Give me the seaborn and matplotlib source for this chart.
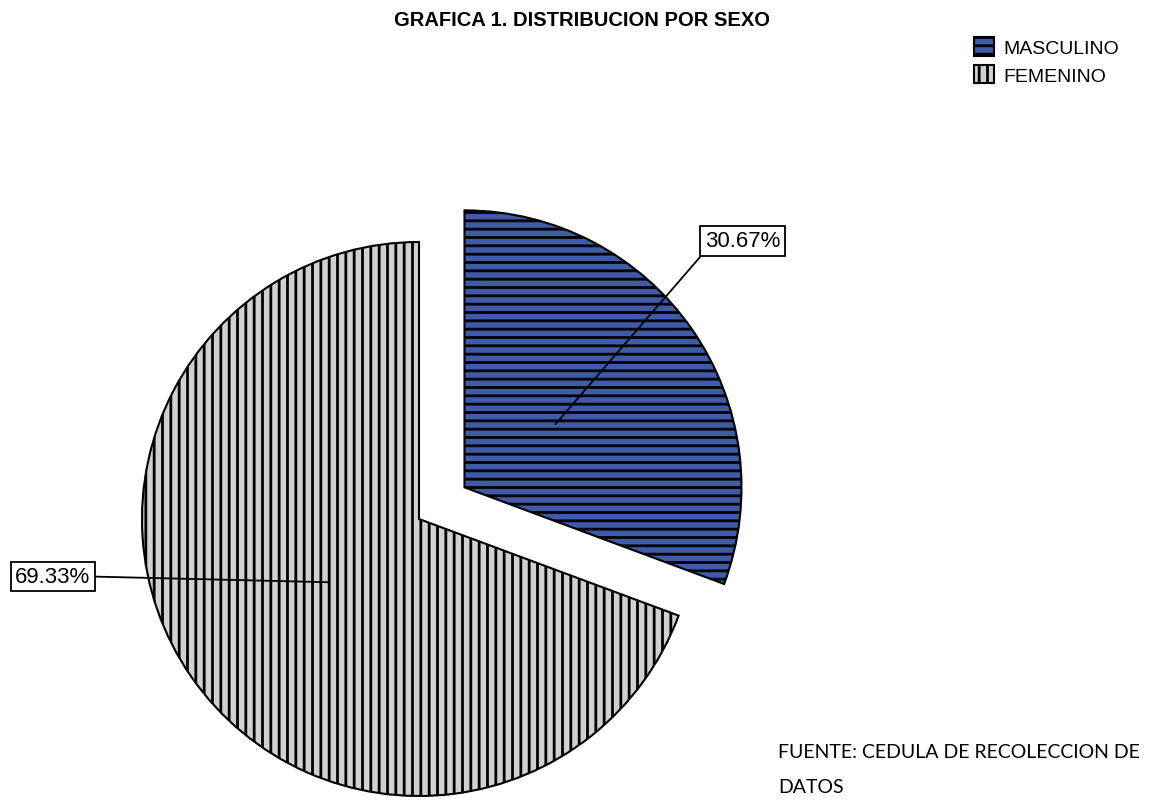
import numpy as np
import matplotlib
matplotlib.use("Agg")
import matplotlib.pyplot as plt
import seaborn as sns

categories = ["MASCULINO", "FEMENINO"]
values = [30.67, 69.33]
label_texts = ["30.67%", "69.33%"]
colors = ["#3F5AA9", "#D0D0D0"]
hatches = ["--", "||"]
title = "GRAFICA 1. DISTRIBUCION POR SEXO"
source_lines = ["FUENTE: CEDULA DE RECOLECCION DE", "DATOS"]

sns.set_theme(style="white")
plt.rcParams["font.family"] = ["Liberation Sans", "DejaVu Sans"]
plt.rcParams["text.color"] = "black"
plt.rcParams["hatch.linewidth"] = 2.0
plt.rcParams["hatch.color"] = "black"

W, H = 1160, 803
fig = plt.figure(figsize=(W / 100, H / 100), dpi=100)
fig.patch.set_facecolor("white")
ax = fig.add_axes([0, 0, 1, 1])

R = 277.0
cx, cy = 419.0, H - 520.0

wedges, _ = ax.pie(values, colors=colors, startangle=90, counterclock=False,
                   explode=[0.2, 0.0], radius=1.0,
                   wedgeprops=dict(edgecolor="black", linewidth=1.5))
for w, h in zip(wedges, hatches):
    w.set_hatch(h)

ax.set_xlim(-cx / R, (W - cx) / R)
ax.set_ylim(-cy / R, (H - cy) / R)
ax.set_aspect("equal")
ax.axis("off")

# labels with leader lines
label_pos = [(742.5, H - 242.0), (53.0, H - 577.5)]
relpos = [(0.0, 0.0), (1.0, 0.5)]
for w, txt, pos, rp in zip(wedges, label_texts, label_pos, relpos):
    tm = np.deg2rad(0.5 * (w.theta1 + w.theta2))
    px = w.center[0] + 0.4 * w.r * np.cos(tm)
    py = w.center[1] + 0.4 * w.r * np.sin(tm)
    ax.annotate(txt, xy=(px, py), xycoords="data",
                xytext=pos, textcoords="figure pixels",
                ha="center", va="center", fontsize=16, color="black",
                family=["Liberation Sans", "DejaVu Sans"],
                bbox=dict(boxstyle="square,pad=0.2", fc="white", ec="black", lw=1.3),
                arrowprops=dict(arrowstyle="-", color="black", lw=1.3,
                                shrinkA=0, shrinkB=0, relpos=rp))

fig.text(582 / W, 1 - 21 / H, title, ha="center", va="center",
         fontsize=14.5, fontweight="bold", color="black",
         family=["Liberation Sans", "DejaVu Sans"])

leg = ax.legend(wedges, categories, loc="upper left",
                bbox_to_anchor=(974 / W, 1 - 38 / H), bbox_transform=fig.transFigure,
                frameon=False, handlelength=1.05, handleheight=1.1,
                handletextpad=0.45, labelspacing=0.4, borderpad=0, borderaxespad=0,
                prop=dict(family=["Liberation Sans", "DejaVu Sans"], size=14))
for t in leg.get_texts():
    t.set_color("black")

for line, ypx in zip(source_lines, [758, 793]):
    fig.text(778 / W, 1 - ypx / H, line, ha="left", va="baseline",
             fontsize=14, color="black", family=["Lato", "DejaVu Sans"])

fig.savefig("out.png", dpi=100, facecolor="white")
